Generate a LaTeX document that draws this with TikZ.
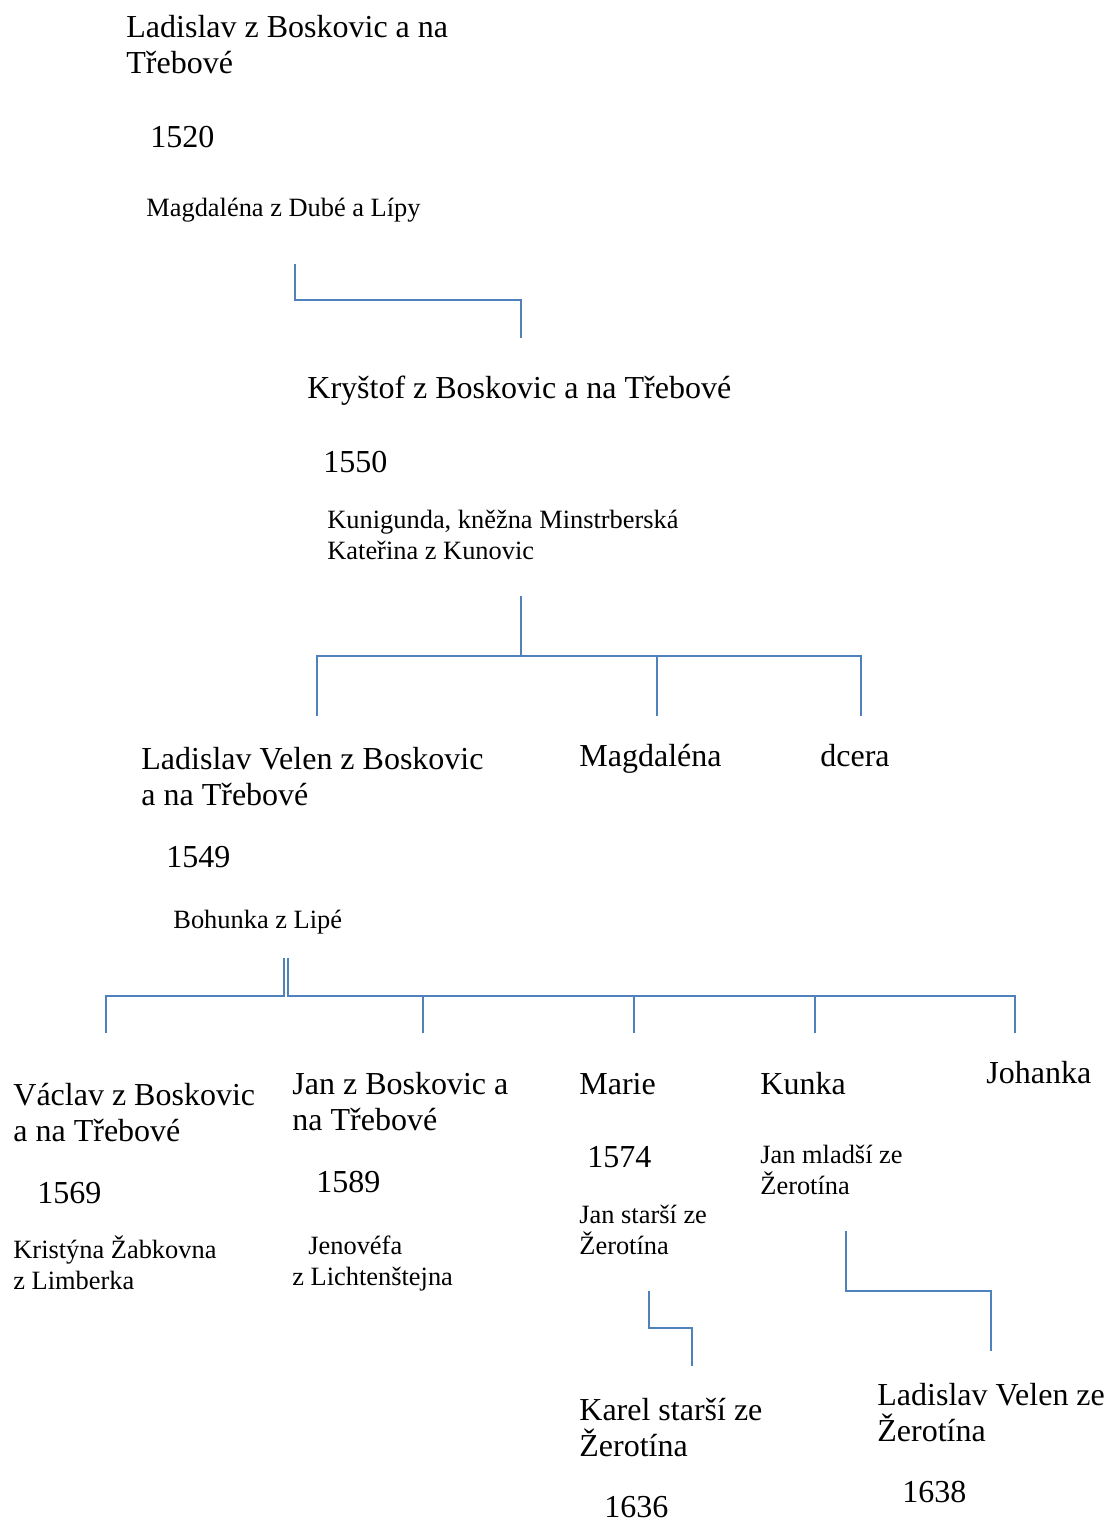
\documentclass[tikz,border=0pt]{standalone}
\usepackage{fontspec}
\setmainfont{Liberation Serif}
\definecolor{treeblue}{RGB}{79,129,189}
\newcommand{\bigname}{\fontsize{16}{18}\selectfont}
\newcommand{\smallname}{\fontsize{13.2}{15.5}\selectfont}
\tikzset{
  person/.style={anchor=base west, inner sep=0pt, align=left, font=\bigname},
  spouse/.style={anchor=base west, inner sep=0pt, align=left, font=\smallname},
  link/.style={draw=treeblue, line width=1pt},
}

\begin{document}
\begin{tikzpicture}[x=0.5pt, y=-0.5pt]
  \useasboundingbox (0,0) rectangle (1107,1522);
  %first generation (multi-line nodes sit on their last baseline)
  \node[person] (ladislav) at (126,73) {Ladislav z Boskovic a na\\Třebové};
  \node[person] (ladislavY) at (150,147) {1520};
  \node[spouse] (ladislavW) at (146,216) {Magdaléna z Dubé a Lípy};

  \node[person] (krystof) at (307,398) {Kryštof z Boskovic a na Třebové};
  \node[person] (krystofY) at (323,472) {1550};
  \node[spouse] (krystofW) at (327,559) {Kunigunda, kněžna Minstrberská\\Kateřina z Kunovic};

  \node[person] (velen) at (141,805) {Ladislav Velen z Boskovic\\a na Třebové};
  \node[person] (velenY) at (166,867) {1549};
  \node[spouse] (velenW) at (173,928) {Bohunka z Lipé};
  \node[person] (magdalena) at (579,766) {Magdaléna};
  \node[person] (dcera) at (820,766) {dcera};

  \node[person] (vaclav) at (13,1141) {Václav z Boskovic\\a na Třebové};
  \node[person] (vaclavY) at (37,1203) {1569};
  \node[spouse] (vaclavW) at (13,1289) {Kristýna Žabkovna\\z Limberka};
  \node[person] (jan) at (292,1130) {Jan z Boskovic a\\na Třebové};
  \node[person] (janY) at (316,1192) {1589};
  \node[spouse] (janW) at (292,1285) {\hspace{8pt}Jenovéfa\\z Lichtenštejna};
  \node[person] (marie) at (579,1094) {Marie};
  \node[person] (marieY) at (587,1167) {1574};
  \node[spouse] (marieH) at (579,1254) {Jan starší ze\\Žerotína};
  \node[person] (kunka) at (760,1094) {Kunka};
  \node[spouse] (kunkaH) at (760,1194) {Jan mladší ze\\Žerotína};
  \node[person] (johanka) at (986,1083) {Johanka};

  \node[person] (karel) at (579,1456) {Karel starší ze\\Žerotína};
  \node[person] (karelY) at (604,1517) {1636};
  \node[person] (velenZ) at (877,1441) {Ladislav Velen ze\\Žerotína};
  \node[person] (velenZY) at (902,1502) {1638};

  %connectors
  \coordinate (l1) at (295,264);
  \coordinate (k1) at (521,338);
  \draw[link] (l1) -- ++(0,36) -| (k1);

  \coordinate (k2) at (521,596);
  \coordinate (c1) at (317,716);
  \coordinate (c2) at (657,716);
  \coordinate (c3) at (861,716);
  \draw[link] (k2) -- ++(0,60);
  \draw[link] (c1) -- ++(0,-60) -| (c3);
  \draw[link] (c2) -- ++(0,-60);

  \coordinate (v1) at (284,958);
  \coordinate (v2) at (288,958);
  \coordinate (d1) at (106,1033);
  \coordinate (d2) at (423,1033);
  \coordinate (d3) at (634,1033);
  \coordinate (d4) at (815,1033);
  \coordinate (d5) at (1015,1033);
  \draw[link] (v1) -- ++(0,38) -| (d1);
  \draw[link] (v2) -- ++(0,38) -| (d5);
  \foreach \d in {d2,d3,d4}
    \draw[link] (\d) -- ++(0,-37);

  \coordinate (m1) at (649,1291);
  \coordinate (ka) at (692,1366);
  \draw[link] (m1) -- ++(0,37) -| (ka);
  \coordinate (u1) at (846,1231);
  \coordinate (lz) at (991,1351);
  \draw[link] (u1) -- ++(0,60) -| (lz);
\end{tikzpicture}
\end{document}
